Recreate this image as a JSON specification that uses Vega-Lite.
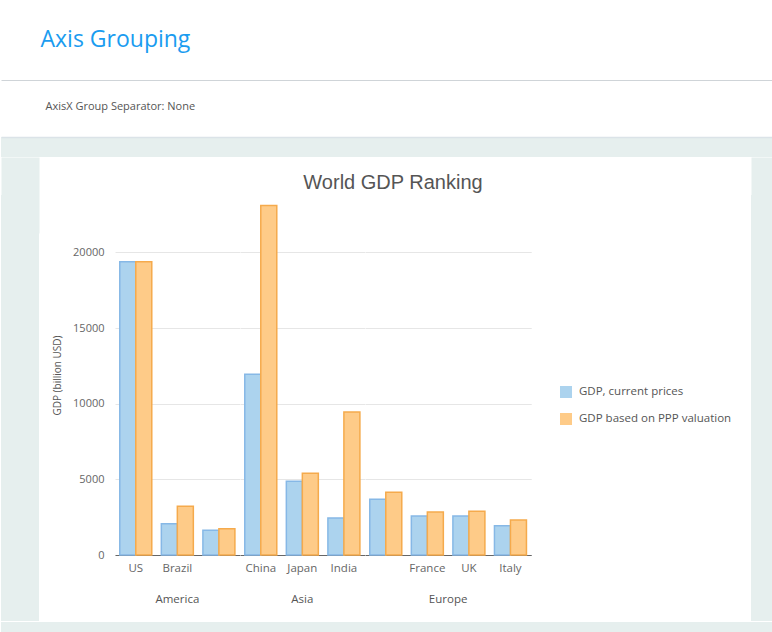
{
  "$schema": "https://vega.github.io/schema/vega-lite/v6.json",
  "background": "white",
  "padding": {"top": 29, "left": 0, "right": 0, "bottom": 0},
  "title": {"text": "Axis Grouping", "anchor": "start", "dx": 40, "fontSize": 23, "font": "Open Sans", "fontWeight": "normal", "color": "#1a9cf0", "offset": 28},
  "data": {"values": [
    {"region": "America", "country": "US", "series": "GDP, current prices", "value": 19390},
    {"region": "America", "country": "US", "series": "GDP based on PPP valuation", "value": 19390},
    {"region": "America", "country": "Brazil", "series": "GDP, current prices", "value": 2060},
    {"region": "America", "country": "Brazil", "series": "GDP based on PPP valuation", "value": 3220},
    {"region": "America", "country": "Canada", "series": "GDP, current prices", "value": 1640},
    {"region": "America", "country": "Canada", "series": "GDP based on PPP valuation", "value": 1740},
    {"region": "Asia", "country": "China", "series": "GDP, current prices", "value": 11950},
    {"region": "Asia", "country": "China", "series": "GDP based on PPP valuation", "value": 23100},
    {"region": "Asia", "country": "Japan", "series": "GDP, current prices", "value": 4870},
    {"region": "Asia", "country": "Japan", "series": "GDP based on PPP valuation", "value": 5400},
    {"region": "Asia", "country": "India", "series": "GDP, current prices", "value": 2450},
    {"region": "Asia", "country": "India", "series": "GDP based on PPP valuation", "value": 9450},
    {"region": "Europe", "country": "Germany", "series": "GDP, current prices", "value": 3680},
    {"region": "Europe", "country": "Germany", "series": "GDP based on PPP valuation", "value": 4150},
    {"region": "Europe", "country": "France", "series": "GDP, current prices", "value": 2580},
    {"region": "Europe", "country": "France", "series": "GDP based on PPP valuation", "value": 2840},
    {"region": "Europe", "country": "UK", "series": "GDP, current prices", "value": 2580},
    {"region": "Europe", "country": "UK", "series": "GDP based on PPP valuation", "value": 2890},
    {"region": "Europe", "country": "Italy", "series": "GDP, current prices", "value": 1935},
    {"region": "Europe", "country": "Italy", "series": "GDP based on PPP valuation", "value": 2310}
  ]},
  "spacing": 0,
  "vconcat": [
    {
      "width": 772, "height": 57,
      "mark": {"type": "rule", "strokeOpacity": 0},
      "encoding": {
        "x": {"field": "value", "type": "quantitative",
          "axis": {"orient": "top", "domainColor": "#cfd4d8", "labels": false, "ticks": false, "grid": false,
            "title": "AxisX Group Separator: None", "titleX": 44, "titleY": 26, "titleAlign": "left", "titleAnchor": "start", "titleBaseline": "middle",
            "titleFontSize": 11, "titleFontWeight": "normal", "titleColor": "#555", "titleFont": "Open Sans"}}
      }
    },
    {
      "width": 772, "height": 20,
      "view": {"fill": "#e6efee", "stroke": null},
      "mark": {"type": "rule", "strokeOpacity": 0},
      "encoding": {
        "x": {"field": "value", "type": "quantitative",
          "axis": {"orient": "top", "domainColor": "#dbe3e8", "domainWidth": 1.5, "labels": false, "ticks": false, "grid": false, "title": null}}
      }
    },
    {
      "spacing": 13,
      "hconcat": [
        {
          "width": 38, "height": 426,
          "view": {"fill": "#e6efee", "stroke": null},
          "mark": {"type": "rule", "strokeOpacity": 0},
          "encoding": {
            "x": {"field": "value", "type": "quantitative",
              "axis": {"orient": "top", "domainColor": "#e6efee", "domainWidth": 76, "domainCap": "butt", "labels": false, "ticks": false, "grid": false,
                "title": ".", "titleColor": "#e6efee", "titleFontSize": 8, "titlePadding": 30}}
          }
        },
        {
          "title": {"text": "World GDP Ranking", "anchor": "middle", "frame": "group", "dx": 278, "fontSize": 20, "font": "Liberation Sans", "fontWeight": "normal", "color": "#555", "offset": 2},
          "facet": {"column": {"field": "region", "type": "nominal", "sort": ["America", "Asia", "Europe"],
            "header": {"title": null, "labelOrient": "bottom", "labelPadding": 20, "labelFontSize": 11.5, "labelColor": "#555", "labelFont": "Open Sans"}}},
          "spacing": 0,
          "resolve": {"scale": {"x": "independent"}},
          "spec": {
            "width": {"step": 16.0}, "height": 360,
            "mark": {"type": "bar", "strokeWidth": 1.5},
            "encoding": {
              "x": {"field": "country", "type": "nominal",
                "sort": ["US", "Brazil", "Canada", "China", "Japan", "India", "Germany", "France", "UK", "Italy"],
                "scale": {"paddingInner": 0.23, "paddingOuter": 0.115},
                "axis": {"title": null, "domainColor": "#666", "ticks": false, "labelPadding": 7, "labelFontSize": 11.5, "labelColor": "#666", "labelAngle": 0,
                  "labelExpr": "datum.label == 'Canada' || datum.label == 'Germany' ? '' : datum.label"}},
              "xOffset": {"field": "series", "type": "nominal", "sort": ["GDP, current prices", "GDP based on PPP valuation"]},
              "y": {"field": "value", "type": "quantitative", "scale": {"domain": [0, 23800], "nice": false},
                "axis": {"title": "GDP (billion USD)", "titleFontSize": 10, "titleFontWeight": "normal", "titleColor": "#555", "titlePadding": 10,
                  "domain": false, "ticks": false, "labelPadding": 11, "labelFontSize": 11, "labelColor": "#666", "gridColor": "#e6e6e6",
                  "values": [0, 5000, 10000, 15000, 20000], "format": "d"}},
              "color": {"field": "series", "type": "nominal", "sort": ["GDP, current prices", "GDP based on PPP valuation"],
                "scale": {"range": ["#acd3ee", "#fecb88"]},
                "legend": {"title": null, "orient": "none", "legendX": 558, "legendY": 305, "symbolType": "square", "symbolSize": 144, "symbolStrokeWidth": 1.5,
                  "labelFontSize": 11.5, "labelColor": "#555", "labelOffset": 6, "rowPadding": 14}},
              "stroke": {"field": "series", "type": "nominal", "sort": ["GDP, current prices", "GDP based on PPP valuation"],
                "scale": {"range": ["#86b8e6", "#f5aa4c"]}}
            }
          }
        },
        {
          "width": 192, "height": 426,
          "mark": {"type": "rule", "strokeOpacity": 0},
          "encoding": {}
        },
        {
          "width": 21, "height": 426,
          "view": {"fill": "#e6efee", "stroke": null},
          "mark": {"type": "rule", "strokeOpacity": 0},
          "encoding": {
            "x": {"field": "value", "type": "quantitative",
              "axis": {"orient": "top", "domainColor": "#e6efee", "domainWidth": 76, "domainCap": "butt", "labels": false, "ticks": false, "grid": false,
                "title": ".", "titleColor": "#e6efee", "titleFontSize": 8, "titlePadding": 30}}
          }
        }
      ]
    },
    {
      "width": 772, "height": 11,
      "view": {"fill": "#e6efee", "stroke": null},
      "mark": {"type": "rule", "strokeOpacity": 0},
      "encoding": {}
    }
  ],
  "config": {"view": {"stroke": null}, "font": "Open Sans"}
}
